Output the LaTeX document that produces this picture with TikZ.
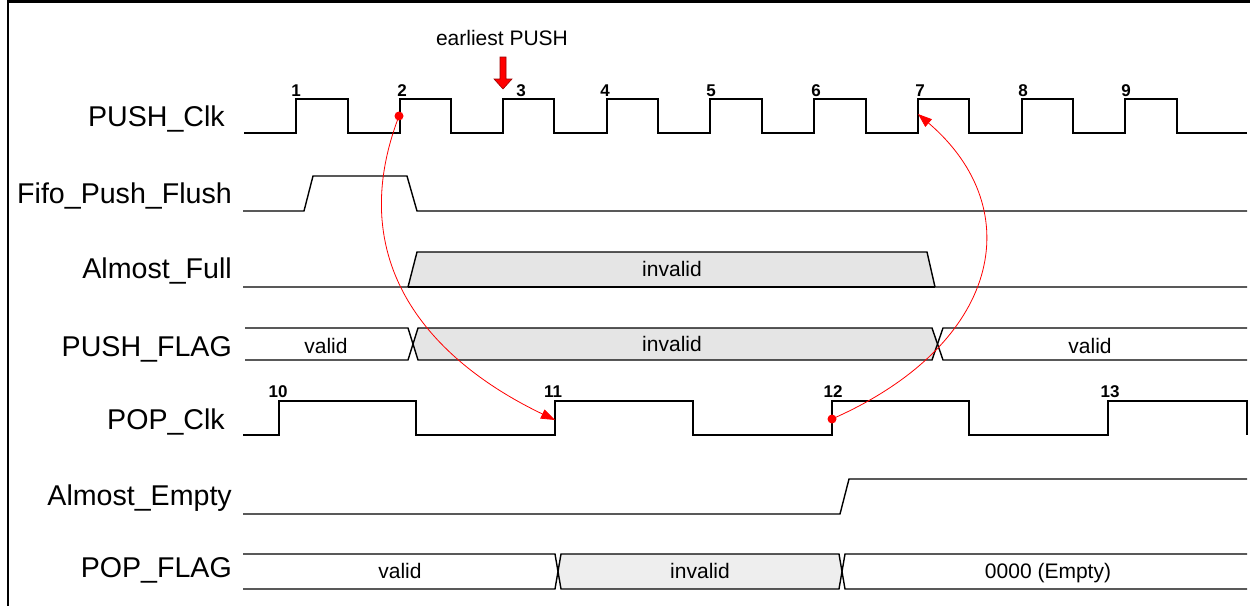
\documentclass[tikz,border=0pt]{standalone}
\usepackage{fontspec}
\setmainfont{Liberation Sans}
\usetikzlibrary{arrows.meta}
\begin{document}
\begin{tikzpicture}[x=1pt,y=-1pt,
  sig/.style={line width=1.4pt, line join=miter},
  frame/.style={line width=2.4pt},
  lbl/.style={anchor=base east, inner sep=0pt, font=\fontsize{28.6}{30}\selectfont},
  txt/.style={anchor=base, inner sep=0pt, font=\fontsize{21}{24}\selectfont},
  num/.style={anchor=base, inner sep=0pt, font=\fontsize{17}{19}\selectfont\bfseries},
  redarr/.style={red, line width=0.8pt, -{Triangle[length=14pt,width=10pt]}},
  reddot/.style={circle, fill=red, inner sep=0pt, minimum size=9pt},
  invA/.style={fill=gray!20},
  invB/.style={fill=gray!13},
  blockarrow/.style={fill=red, draw=red!60!black, line width=0.6pt},
]
\useasboundingbox (0,0) rectangle (1250,605);
% frame
\draw[frame] (8,606) -- (8,1.5) -- (1251,1.5);

% signal names
\node[lbl] (nPushClk) at (225,126) {PUSH\_Clk};
\node[lbl] (nFlush) at (232,203) {Fifo\_Push\_Flush};
\node[lbl] (nAFull) at (232,278) {Almost\_Full};
\node[lbl] (nPushFlag) at (232,356) {PUSH\_FLAG};
\node[lbl] (nPopClk) at (225,429) {POP\_Clk};
\node[lbl] (nAEmpty) at (232,505) {Almost\_Empty};
\node[lbl] (nPopFlag) at (232,577) {POP\_FLAG};

% earliest PUSH
\node[txt] (early) at (502,45) {earliest PUSH};
\draw[blockarrow] (500,57) -- (506,57) -- (506,79) -- (512,79) -- (503,89) -- (494,79) -- (500,79) -- cycle;

% PUSH_Clk
\draw[sig] (244,133) -- (296,133) -- (296,99) -- (348,99) -- (348,133) -- (400,133) -- (400,99)
  -- (451,99) -- (451,133) -- (503,133) -- (503,99) -- (554,99) -- (554,133) -- (607,133) -- (607,99)
  -- (658,99) -- (658,133) -- (710,133) -- (710,99) -- (762,99) -- (762,133) -- (814,133) -- (814,99)
  -- (866,99) -- (866,133) -- (918,133) -- (918,99) -- (969,99) -- (969,133) -- (1022,133) -- (1022,99)
  -- (1073,99) -- (1073,133) -- (1125,133) -- (1125,99) -- (1177,99) -- (1177,133) -- (1247,133);
\node[num] (k1) at (296,96) {1};
\node[num] (k2) at (402,96) {2};
\node[num] (k3) at (521,96) {3};
\node[num] (k4) at (605,96) {4};
\node[num] (k5) at (711,96) {5};
\node[num] (k6) at (816,96) {6};
\node[num] (k7) at (920,96) {7};
\node[num] (k8) at (1023,96) {8};
\node[num] (k9) at (1126,96) {9};

% Fifo_Push_Flush
\draw[sig] (243,211) -- (304,211) -- (313,176) -- (407,176) -- (417,211) -- (1247,211);

% Almost_Full
\fill[invA] (408,287) -- (417,252) -- (927,252) -- (935,287) -- cycle;
\draw[sig] (243,287) -- (408,287) -- (417,252) -- (927,252) -- (935,287) -- (1247,287);
\draw[sig] (408,287) -- (935,287);
\node[txt] (tAF) at (672,276) {invalid};

% PUSH_FLAG
\fill[invA] (413,344) -- (418,328) -- (932,328) -- (937.5,344) -- (932,360) -- (418,360) -- cycle;
\draw[sig] (245,328) -- (408,328) -- (418,360) -- (932,360) -- (943,328) -- (1247,328);
\draw[sig] (245,360) -- (408,360) -- (418,328) -- (932,328) -- (943,360) -- (1247,360);
\node[txt] (tPF1) at (326,353) {valid};
\node[txt] (tPF2) at (672,351) {invalid};
\node[txt] (tPF3) at (1090,353) {valid};

% POP_Clk
\draw[sig] (243,435) -- (279,435) -- (279,401) -- (416,401) -- (416,435) -- (555,435) -- (555,401)
  -- (693,401) -- (693,435) -- (832,435) -- (832,401) -- (969,401) -- (969,435) -- (1108,435)
  -- (1108,401) -- (1247,401) -- (1247,435);
\node[num] (k10) at (278,397) {10};
\node[num] (k11) at (553,397) {11};
\node[num] (k12) at (833,397) {12};
\node[num] (k13) at (1110,397) {13};

% Almost_Empty
\draw[sig] (243,514) -- (840,514) -- (849,479) -- (1247,479);

% POP_FLAG
\fill[invB] (558,571.5) -- (561,554) -- (839,554) -- (842,571.5) -- (839,589) -- (561,589) -- cycle;
\draw[sig] (243,554) -- (555,554) -- (561,589) -- (839,589) -- (845,554) -- (1247,554);
\draw[sig] (243,589) -- (555,589) -- (561,554) -- (839,554) -- (845,589) -- (1247,589);
\node[txt] (tPO1) at (400,578) {valid};
\node[txt] (tPO2) at (700,578) {invalid};
\node[txt] (tPO3) at (1048,578) {0000 (Empty)};

% red causality arrows
\coordinate (p2) at (399,116);
\coordinate (q11) at (555,420);
\coordinate (p12) at (832,419);
\coordinate (q7) at (918,114);
\draw[redarr] (p2) .. controls (340,270) and (440,365) .. (q11);
\draw[redarr] (p12) .. controls (1000,345) and (1030,210) .. (q7);
\node[reddot] (dot2) at (p2) {};
\node[reddot] (dot12) at (p12) {};
\end{tikzpicture}
\end{document}
